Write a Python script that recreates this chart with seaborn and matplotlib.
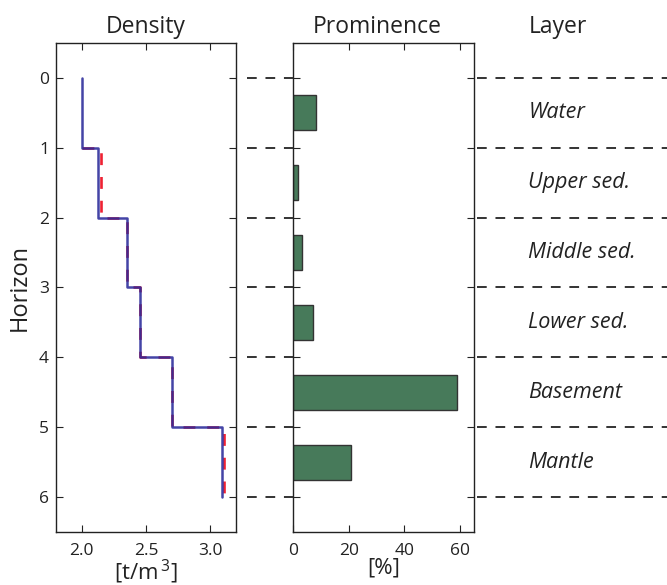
import matplotlib
matplotlib.use("Agg")
import matplotlib.pyplot as plt
import pandas as pd
import seaborn as sns
from matplotlib.lines import Line2D
from matplotlib.transforms import blended_transform_factory

# Layer model: horizons bound the layers from top to bottom
layers = ["Water", "Upper sed.", "Middle sed.", "Lower sed.", "Basement", "Mantle"]
horizons = [0, 1, 2, 3, 4, 5, 6]
density_inverted = [2.00, 2.13, 2.35, 2.45, 2.70, 3.09]
density_reference = [2.00, 2.15, 2.35, 2.45, 2.70, 3.105]
prominence = [8.2, 1.7, 3.2, 7.2, 59.0, 20.8]

density_ticks = [2.0, 2.5, 3.0]
prominence_ticks = [0, 20, 40, 60]

sns.set_theme(style="white")
plt.rcParams["font.family"] = ["Open Sans", "DejaVu Sans"]
plt.rcParams["mathtext.default"] = "regular"

TEXT = "#222222"
BAR = "#477a5a"


def step_path(values, bounds):
    """Vertical profile: each layer value held constant between its bounding horizons."""
    xs, ys = [], []
    for v, top, bot in zip(values, bounds[:-1], bounds[1:]):
        xs += [v, v]
        ys += [top, bot]
    return xs, ys


fig = plt.figure(figsize=(6.67, 5.85), dpi=100)
ax1 = fig.add_axes([0.084, 0.0906, 0.270, 0.836])
ax2 = fig.add_axes([0.4397, 0.0906, 0.2705, 0.836])

# --- Density profile ---
rx, ry = step_path(density_reference, horizons)
ref = pd.DataFrame({"density": rx[1:], "horizon": ry[1:]})
ix, iy = step_path(density_inverted, horizons)
inv = pd.DataFrame({"density": ix, "horizon": iy})

sns.lineplot(data=ref, x="density", y="horizon", sort=False, estimator=None,
             color="#ee2233", linewidth=1.9, linestyle=(0, (4.5, 4.5)), ax=ax1)
sns.lineplot(data=inv, x="density", y="horizon", sort=False, estimator=None,
             color="#2a2a9a", linewidth=1.8, alpha=0.88, ax=ax1)

ax1.set_xlim(1.8, 3.2)
ax1.set_ylim(6.5, -0.5)
ax1.set_xticks(density_ticks)
ax1.set_xticklabels([f"{t:.1f}" for t in density_ticks])
ax1.set_yticks(horizons)
ax1.set_xlabel("[t/m$^{\\,3}$]", fontsize=16, color=TEXT, labelpad=-1)
ax1.set_ylabel("Horizon", fontsize=17, color=TEXT, labelpad=5)

# --- Prominence bars, centred in each layer ---
bars = pd.DataFrame({
    "prominence": prominence,
    "centre": [(a + b) / 2 for a, b in zip(horizons[:-1], horizons[1:])],
})
sns.barplot(data=bars, x="prominence", y="centre", orient="h", native_scale=True,
            width=0.5, color=BAR, saturation=1, edgecolor="#333333",
            linewidth=1.0, ax=ax2)
ax2.set_xlim(0, 65)
ax2.set_ylim(6.5, -0.5)
ax2.set_xticks(prominence_ticks)
ax2.set_yticks(horizons)
ax2.set_yticklabels([])
ax2.set_ylabel("")
ax2.set_xlabel("[%]", fontsize=16, color=TEXT, labelpad=-1)

for ax in (ax1, ax2):
    ax.tick_params(direction="in", length=5, width=0.8, top=True, right=True,
                   bottom=True, left=True, labelsize=12.5, labelcolor=TEXT,
                   color=TEXT)
    ax.tick_params(axis="x", pad=8)
    ax.tick_params(axis="y", pad=5)
    for s in ax.spines.values():
        s.set_color(TEXT)
        s.set_linewidth(1.0)
        s.set_visible(True)

# Column headings
fig.text(0.2189, 0.9436, "Density", ha="center", va="baseline", fontsize=16.5, color=TEXT)
fig.text(0.565, 0.9436, "Prominence", ha="center", va="baseline", fontsize=16.5, color=TEXT)
fig.text(0.792, 0.9436, "Layer", ha="left", va="baseline", fontsize=16.5, color=TEXT)

# Horizon separators across the gaps and the layer column
trans = blended_transform_factory(fig.transFigure, ax1.transData)
segments = [(247 / 667, 293 / 667), (477 / 667, 1.0)]
for h in horizons:
    for x0, x1 in segments:
        fig.add_artist(Line2D([x0, x1], [h, h], transform=trans, color="#333333",
                              linewidth=1.4, linestyle=(0, (5, 4.5))))

# Layer names
for name, top, bot in zip(layers, horizons[:-1], horizons[1:]):
    fig.text(0.792, (top + bot) / 2, name, transform=trans, ha="left", va="center",
             fontsize=15.5, fontstyle="italic", color=TEXT)

fig.savefig("out.png", dpi=100)
